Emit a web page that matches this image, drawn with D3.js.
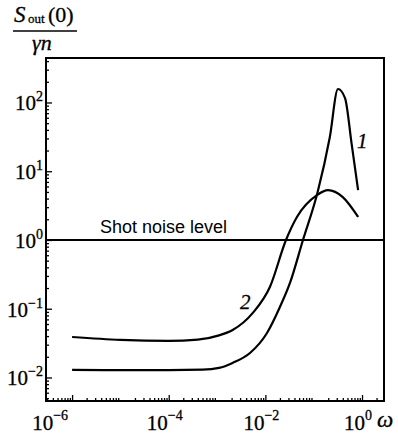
<!DOCTYPE html>
<html>
<head>
<meta charset="utf-8">
<script src="https://cdn.jsdelivr.net/npm/d3@7"></script>
<style>
  html, body { margin: 0; padding: 0; background: #fff; }
  svg { display: block; }
  .serif { font-family: "Liberation Serif", "Times New Roman", serif; fill: #000; stroke: #000; stroke-width: 0.3; }
  .sans { font-family: "Liberation Sans", Arial, sans-serif; fill: #000; }
</style>
</head>
<body>
<script>
// ---- data ----
const xTickValues = [1e-6, 1e-4, 1e-2, 1];
const xTickExponents = ["\u22126", "\u22124", "\u22122", "0"];
const yTickValues = [1e-2, 1e-1, 1, 10, 100];
const yTickExponents = ["\u22122", "\u22121", "0", "1", "2"];

const omega1 = [1e-6, 1e-5, 1e-4, 5e-4, 1.1e-3, 2.1e-3, 4.8e-3, 0.0108, 0.020, 0.0323, 0.060, 0.12, 0.215, 0.318, 0.445, 0.61, 0.83];
const sout1  = [0.0129, 0.0128, 0.0128, 0.0130, 0.0138, 0.0163, 0.0227, 0.0444, 0.106, 0.237, 1.0, 4.9, 31, 157, 116, 25, 5.3];

const omega2 = [1e-6, 1e-5, 1e-4, 4e-4, 1.1e-3, 2.1e-3, 5.5e-3, 0.0124, 0.0267, 0.045, 0.117, 0.198, 0.40, 0.83];
const sout2  = [0.0388, 0.0352, 0.034, 0.0355, 0.041, 0.049, 0.087, 0.207, 1.0, 2.16, 4.5, 5.3, 4.2, 2.16];

const shotNoise = 1;
const shotLabel = "Shot noise level";
const curveLabels = ["1", "2"];

// ---- layout ----
const W = 398, H = 442;
const mLeft = 46, mRight = 384, mTop = 58, mBottom = 401;

const x = d3.scaleLog().domain([Math.pow(10, -6.54), Math.pow(10, 0.455)]).range([mLeft, mRight]);
const y = d3.scaleLog().domain([Math.pow(10, -2.342), Math.pow(10, 2.647)]).range([mBottom, mTop]);

const svg = d3.select("body").append("svg").attr("width", W).attr("height", H);

function minorTicks(scale) {
  const [a, b] = scale.domain();
  const out = [];
  for (let e = Math.floor(Math.log10(a)); e <= Math.ceil(Math.log10(b)); e++) {
    for (let k = 2; k <= 9; k++) {
      const v = k * Math.pow(10, e);
      if (v > a && v < b) out.push(v);
    }
  }
  return out;
}

// axes (ticks inward)
const gx = svg.append("g").attr("transform", `translate(0,${mBottom})`);
gx.call(d3.axisBottom(x).tickValues(minorTicks(x)).tickSize(-3).tickFormat(""));
gx.append("g").call(d3.axisBottom(x).tickValues(xTickValues).tickSize(-6).tickFormat(""));
gx.selectAll(".domain").remove();
gx.selectAll("line").attr("stroke", "#000").attr("stroke-width", 1.3);

const gy = svg.append("g").attr("transform", `translate(${mLeft},0)`);
gy.call(d3.axisLeft(y).tickValues(minorTicks(y)).tickSize(-3).tickFormat(""));
gy.append("g").call(d3.axisLeft(y).tickValues(yTickValues).tickSize(-6).tickFormat(""));
gy.selectAll(".domain").remove();
gy.selectAll("line").attr("stroke", "#000").attr("stroke-width", 1.3);

// frame
svg.append("rect").attr("x", mLeft).attr("y", mTop).attr("width", mRight - mLeft).attr("height", mBottom - mTop)
  .attr("fill", "none").attr("stroke", "#000").attr("stroke-width", 2);

// y tick labels
yTickValues.forEach((v, i) => {
  const t = svg.append("text").attr("class", "serif").attr("text-anchor", "end")
    .attr("x", mLeft - 3).attr("y", y(v) + 8).attr("font-size", 21);
  t.append("tspan").text("10");
  t.append("tspan").attr("font-size", 14).attr("dy", -9).text(yTickExponents[i]);
});

// x tick labels
xTickValues.forEach((v, i) => {
  const shift = i === 0 ? -22 : -4;
  const t = svg.append("text").attr("class", "serif").attr("text-anchor", "middle")
    .attr("x", x(v) + shift).attr("y", 430).attr("font-size", 21);
  t.append("tspan").text("10");
  t.append("tspan").attr("font-size", 14).attr("dy", -10).text(xTickExponents[i]);
});

// omega axis label
svg.append("text").attr("class", "serif").attr("font-style", "italic").attr("font-size", 23)
  .attr("x", 377).attr("y", 427).text("\u03C9");

// y axis title (fraction)
const tt = svg.append("g");
tt.append("text").attr("class", "serif").attr("font-style", "italic").attr("font-size", 23)
  .attr("x", 14).attr("y", 22).text("S");
tt.append("text").attr("class", "serif").attr("font-size", 13).attr("x", 28).attr("y", 23).text("out");
tt.append("text").attr("class", "serif").attr("font-size", 22).attr("x", 48).attr("y", 22).text("(0)");
tt.append("line").attr("x1", 13).attr("x2", 77).attr("y1", 31).attr("y2", 31).attr("stroke", "#000").attr("stroke-width", 1.6);
tt.append("text").attr("class", "serif").attr("font-style", "italic").attr("font-size", 22)
  .attr("x", 32).attr("y", 50).text("\u03B3n");

// shot noise level
svg.append("line").attr("x1", mLeft).attr("x2", mRight).attr("y1", y(shotNoise)).attr("y2", y(shotNoise))
  .attr("stroke", "#000").attr("stroke-width", 2);
svg.append("text").attr("class", "sans").attr("font-size", 18).attr("x", 100).attr("y", y(shotNoise) - 7).text(shotLabel);

// curves
const line = d3.line().x(d => x(d[0])).y(d => y(d[1])).curve(d3.curveMonotoneX);
const c1 = omega1.map((w, i) => [w, sout1[i]]);
const c2 = omega2.map((w, i) => [w, sout2[i]]);
[c1, c2].forEach(c => {
  svg.append("path").attr("d", line(c)).attr("fill", "none").attr("stroke", "#000")
    .attr("stroke-width", 2.2).attr("stroke-linejoin", "round");
});

// curve labels
svg.append("text").attr("class", "serif").attr("font-style", "italic").attr("font-size", 21)
  .attr("x", 357).attr("y", 148).text(curveLabels[0]);
svg.append("text").attr("class", "serif").attr("font-style", "italic").attr("font-size", 21)
  .attr("x", 240).attr("y", 309).text(curveLabels[1]);
</script>
</body>
</html>
